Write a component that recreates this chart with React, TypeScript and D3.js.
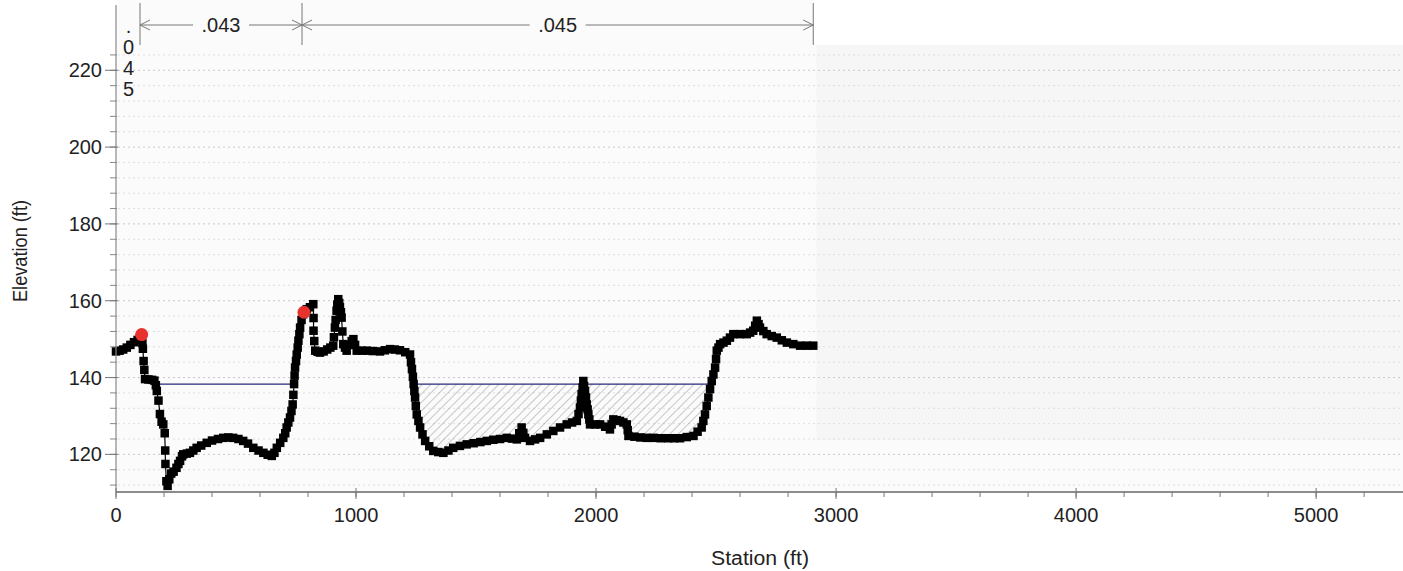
import React from "react";
import * as d3 from "d3";

// ---- data ----
const stations = [0,15,30,45,60,75,90,100,107,110,112,115,118,121,135,150,160,166,170,177,183,190,197,203,205,206,210,215,222,230,240,252,260,267,275,280,295,308,322,336,355,378,400,425,447,468,488,510,530,550,572,594,614,632,649,660,670,684,697,705,711,718,725,731,736,739,742,744,746,750,753,757,760,764,767,773,780,783,795,808,822,823,823,826,830,840,850,865,880,893,905,908,912,915,919,922,926,930,933,937,940,943,947,954,961,975,982,989,996,1003,1024,1045,1070,1100,1120,1142,1162,1183,1205,1225,1229,1233,1237,1240,1243,1246,1249,1253,1260,1267,1277,1288,1305,1322,1343,1364,1385,1405,1433,1461,1490,1518,1545,1572,1600,1628,1650,1670,1680,1690,1697,1704,1725,1746,1767,1795,1822,1850,1878,1900,1920,1927,1933,1937,1940,1944,1947,1950,1954,1958,1961,1965,1968,1972,1975,1996,2017,2038,2058,2065,2072,2086,2100,2114,2128,2132,2135,2160,2185,2211,2240,2270,2300,2325,2350,2378,2406,2423,2440,2447,2454,2461,2468,2475,2482,2489,2496,2500,2503,2510,2517,2531,2545,2558,2572,2600,2628,2642,2655,2663,2670,2677,2683,2697,2711,2732,2753,2774,2795,2822,2850,2878,2905];
const elevations = [146.8,147,147.3,147.8,148.5,149.2,149.8,150.4,151.2,149,147.5,144.3,142,139.6,139.5,139.4,139.2,138,136.5,134,130.5,128.5,127.8,125.5,121,117.5,113,111.8,113.5,115,115.5,116.5,117.5,118.3,119.5,120,120.2,120.4,121,121.7,122.3,123,123.6,124,124.3,124.4,124.3,124,123.5,122.8,121.7,121,120.4,119.9,119.6,120.4,121.7,123,124.3,125.5,127,128.3,129.6,131.3,133,135.5,138.3,140.5,142.6,144.3,146,147.8,149.6,151.3,153,155,156.5,157,157.8,158.3,159.1,155.5,152.2,149.5,147,146.7,146.5,146.8,147.3,147.8,148.3,150.5,153,155,157.4,159,160.4,159.4,158.3,157,155.6,152,148.7,147.8,147,148.5,149.5,150,148.5,147,147,147,146.9,146.8,147.1,147.4,147.3,147.1,146.6,146,144,142.2,140.2,138.3,136.5,134.8,132.6,130.4,128.7,127,125.2,123.5,122.1,120.9,120.6,120.4,121,121.7,122.2,122.6,122.9,123.2,123.5,123.8,124,124.3,124.1,123.9,125.5,127,125.6,124.3,123.5,123.9,124.3,125.2,126.1,127,127.8,128.3,128.7,130.5,132.2,134,135.7,137.4,139.1,137.8,136.5,134.8,133,131.7,130.4,129.1,127.8,127.8,127.8,127.2,126.5,127.8,129.1,128.9,128.7,128.3,127.8,126.3,124.8,124.6,124.4,124.3,124.3,124.2,124.2,124.2,124.2,124.5,124.8,125.9,127,128.7,130.4,132.6,134.8,137,139.1,140.8,142.6,144.8,147,147.8,148.7,149.1,149.6,150.4,151.3,151.3,151.3,151.7,152.2,153.5,154.8,153.9,153,152.1,151.3,150.8,150.4,149.7,149.1,148.7,148.3,148.3,148.3];

const bankStations = [107, 783];
const bankElevations = [151.2, 157];

const wsElevation = 138.3;
const wsSegments = [[180, 742], [1240, 2482]];
const hatchRange = [1240, 2482];

const nBreaks = [0, 100, 775, 2905];
const nValues = [".045", ".043", ".045"];

const xMajorTicks = [0, 1000, 2000, 3000, 4000, 5000];
const yMajorTicks = [120, 140, 160, 180, 200, 220];

const xDomain = [0, 5362];
const yDomain = [110.2, 237];

export default function App() {
  const W = 1403, H = 571;
  const x = d3.scaleLinear().domain(xDomain).range([116, 1403]);
  const y = d3.scaleLinear().domain(yDomain).range([492, 5]);

  const pts = stations.map((s, i) => ({ s, e: elevations[i] }));
  const line = d3.line<any>().x(d => x(d.s)).y(d => y(d.e));
  const area = d3.area<any>()
    .defined(d => d.s >= hatchRange[0] && d.s <= hatchRange[1])
    .x(d => x(d.s))
    .y0(d => y(Math.min(d.e, wsElevation)))
    .y1(() => y(wsElevation));

  const xMinor = d3.range(0, 5201, 200);
  const yMinor = d3.range(112, 225, 4);
  const font = "Liberation Sans, Arial, sans-serif";
  const M = 8.5;

  const annY = 25;
  const arrowSegs: any[] = [];
  for (let i = 1; i < nValues.length; i++) {
    const x0 = x(nBreaks[i]), x1 = x(nBreaks[i + 1]);
    const cx = (x0 + x1) / 2;
    const tw = nValues[i].length * 10;
    arrowSegs.push({ x0, x1, cx, tw, label: nValues[i] });
  }
  const firstSegCx = (x(nBreaks[0]) + x(nBreaks[1])) / 2 + 0.5;

  return (
    <svg width={W} height={H} style={{ position: "absolute", left: 0, top: 0, background: "#fff" }} fontFamily={font}>
      <defs>
        <pattern id="hatch" patternUnits="userSpaceOnUse" width="6" height="6" patternTransform="rotate(45)">
          <line x1="0" y1="0" x2="0" y2="6" stroke="#7a7a7a" strokeWidth="0.8" />
        </pattern>
      </defs>
      {/* background */}
      <rect x={117} y={0} width={x(nBreaks[3]) - 117} height={45} fill="#fbfbfb" />
      <rect x={117} y={45} width={1403 - 117} height={446} fill="#fbfbfb" />
      <rect x={x(nBreaks[3]) + 3} y={45} width={1403 - x(nBreaks[3]) - 3} height={395} fill="#f6f6f6" />
      {/* grid */}
      {yMinor.map(v => (
        <line key={"g" + v} x1={118} x2={1403} y1={y(v)} y2={y(v)}
          stroke={v % 20 === 0 ? "#c8c8c8" : "#dedede"} strokeWidth={1} strokeDasharray="2,3" />
      ))}
      {/* hatch */}
      <path d={area(pts) || ""} fill="url(#hatch)" stroke="none" />
      {/* water surface */}
      {wsSegments.map((seg, i) => (
        <line key={"ws" + i} x1={x(seg[0])} x2={x(seg[1])} y1={y(wsElevation)} y2={y(wsElevation)} stroke="#28287a" strokeWidth={1.3} />
      ))}
      {/* ground */}
      <path d={line(pts) || ""} fill="none" stroke="#000" strokeWidth={1.2} />
      {pts.map((p, i) => (
        <rect key={"m" + i} x={x(p.s) - M / 2} y={y(p.e) - M / 2} width={M} height={M} fill="#000" />
      ))}
      {bankStations.map((s, i) => (
        <circle key={"b" + i} cx={x(s)} cy={y(bankElevations[i])} r={6.5} fill="#e8322c" />
      ))}
      {/* n-value annotations */}
      {nBreaks.slice(1).map((b, i) => (
        <line key={"nv" + i} x1={x(b)} x2={x(b)} y1={3} y2={45} stroke="#777" strokeWidth={1} />
      ))}
      {arrowSegs.map((a, i) => (
        <g key={"ar" + i} stroke="#777" strokeWidth={1} fill="none">
          <line x1={a.x0} x2={a.cx - a.tw / 2 - 8} y1={annY} y2={annY} />
          <line x1={a.cx + a.tw / 2 + 8} x2={a.x1} y1={annY} y2={annY} />
          <path d={`M${a.x0 + 10},${annY - 5}L${a.x0},${annY}L${a.x0 + 10},${annY + 5}`} />
          <path d={`M${a.x1 - 10},${annY - 5}L${a.x1},${annY}L${a.x1 - 10},${annY + 5}`} />
          <text x={a.cx} y={annY + 7} textAnchor="middle" fontSize={20} fill="#222" stroke="none">{a.label}</text>
        </g>
      ))}
      <text x={firstSegCx} fontSize={20} fill="#222" textAnchor="middle">
        {nValues[0].split("").map((c, i) => (
          <tspan key={i} x={firstSegCx} y={33 + i * 21}>{c}</tspan>
        ))}
      </text>
      {/* y axis */}
      <line x1={116} x2={116} y1={5} y2={492} stroke="#888" strokeWidth={1.2} />
      {yMinor.map(v => (
        <line key={"ym" + v} x1={110} x2={117} y1={y(v)} y2={y(v)} stroke="#888" />
      ))}
      {yMajorTicks.map(v => (
        <g key={"yt" + v}>
          <line x1={105} x2={118} y1={y(v)} y2={y(v)} stroke="#777" />
          <text x={102} y={y(v) + 7} textAnchor="end" fontSize={20} fill="#222">{v}</text>
        </g>
      ))}
      {/* x axis */}
      <line x1={116} x2={1403} y1={492} y2={492} stroke="#666" strokeWidth={1.3} />
      {xMinor.map(v => (
        <line key={"xm" + v} x1={x(v)} x2={x(v)} y1={492} y2={497} stroke="#777" />
      ))}
      {xMajorTicks.map(v => (
        <g key={"xt" + v}>
          <line x1={x(v)} x2={x(v)} y1={488} y2={499} stroke="#777" />
          <text x={x(v)} y={522} textAnchor="middle" fontSize={20} fill="#222">{v}</text>
        </g>
      ))}
      <text x={760} y={565} textAnchor="middle" fontSize={20} fill="#222" textLength={98} lengthAdjust="spacingAndGlyphs">Station (ft)</text>
      <text transform={`translate(27,251) rotate(-90)`} textAnchor="middle" fontSize={20} fill="#222" textLength={102} lengthAdjust="spacingAndGlyphs">Elevation (ft)</text>
    </svg>
  );
}
